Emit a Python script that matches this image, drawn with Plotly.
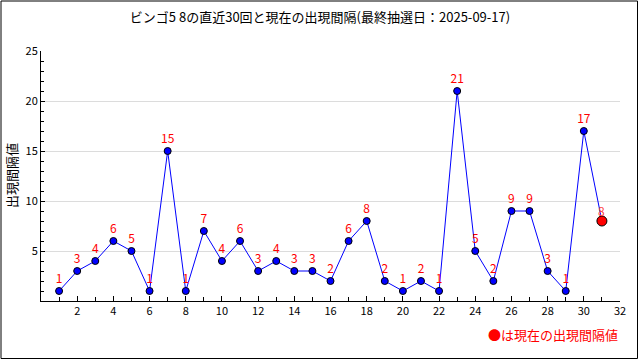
import plotly.graph_objects as go

draws = list(range(1, 31))
intervals = [1, 3, 4, 6, 5, 1, 15, 1, 7, 4, 6, 3, 4, 3, 3, 2, 6, 8, 2, 1,
             2, 1, 21, 5, 2, 9, 9, 3, 1, 17]
current_x = [31]
current_val = [8]
x_ticks = list(range(2, 33, 2))
y_ticks = [5, 10, 15, 20, 25]

title = "ビンゴ5 8の直近30回と現在の出現間隔(最終抽選日：2025-09-17)"
y_title = "出現間隔値"
note = "●は現在の出現間隔値"

FONT = "Noto Sans CJK JP, DejaVu Sans, sans-serif"

W, H = 640, 360
ml, mr, mt, mb = 41, 20, 51, 59
pw, ph = W - ml - mr, H - mt - mb

fig = go.Figure()

fig.add_trace(go.Scatter(
    x=draws + current_x,
    y=intervals + current_val,
    mode="lines",
    line=dict(color="#0000ff", width=1),
    hoverinfo="skip",
))
fig.add_trace(go.Scatter(
    x=draws, y=intervals,
    mode="markers+text",
    text=[str(v) for v in intervals],
    textposition="top center",
    textfont=dict(color="#ff0000", size=12, family=FONT),
    marker=dict(color="#0000ff", size=7, line=dict(color="black", width=1)),
))
fig.add_trace(go.Scatter(
    x=current_x, y=current_val,
    mode="markers",
    marker=dict(color="#ff0000", size=10, line=dict(color="black", width=1)),
))
for xv, yv in zip(current_x, current_val):
    fig.add_annotation(x=xv, y=yv, text=str(yv), showarrow=False,
                       yshift=11, font=dict(color="#ff4040", size=12, family=FONT))

fig.add_annotation(xref="paper", yref="paper", x=1, y=-(334 - 301) / ph,
                   xanchor="right", yanchor="middle", showarrow=False,
                   text=note, font=dict(color="#ff0000", size=13, family=FONT))

fig.add_annotation(xref="paper", yref="paper", x=-(ml - 11) / pw, y=0.5,
                   xanchor="center", yanchor="middle", showarrow=False,
                   textangle=-90, text=y_title,
                   font=dict(color="black", size=13, family=FONT))

# outer frame
fig.add_shape(type="rect", xref="paper", yref="paper",
              x0=-(ml - 1) / pw, x1=1 + (mr - 2.5) / pw,
              y0=-(mb - 1.5) / ph, y1=1 + (mt - 1) / ph,
              line=dict(color="black", width=1), fillcolor="rgba(0,0,0,0)")

fig.update_layout(
    width=W, height=H,
    margin=dict(l=ml, r=mr, t=mt, b=mb, autoexpand=False),
    paper_bgcolor="white", plot_bgcolor="white",
    showlegend=False,
    font=dict(family=FONT, size=11, color="black"),
    title=dict(text=title, x=0.5, xanchor="center", y=1 - 17 / H, yanchor="middle",
               font=dict(size=13, family=FONT, color="black")),
    xaxis=dict(range=[0, 32], tickvals=x_ticks, showgrid=False, zeroline=False,
               showline=True, linecolor="black", linewidth=1,
               ticks="inside", ticklen=5, tickcolor="black",
               minor=dict(dtick=1, tick0=0, ticks="inside", ticklen=4, tickcolor="black"),
               tickfont=dict(size=11), automargin=False, fixedrange=True),
    yaxis=dict(range=[0, 25], tickvals=y_ticks, showgrid=True,
               gridcolor="#dcdcdc", gridwidth=1, zeroline=False,
               showline=True, linecolor="black", linewidth=1,
               ticks="inside", ticklen=4, tickcolor="black",
               minor=dict(dtick=1, tick0=0, ticks="inside", ticklen=3, tickcolor="black", showgrid=False),
               tickfont=dict(size=11), automargin=False, fixedrange=True),
)

fig.write_html("out.html",
               config={"displayModeBar": False},
               post_script="document.body.style.margin='0';document.body.style.overflow='hidden';")
